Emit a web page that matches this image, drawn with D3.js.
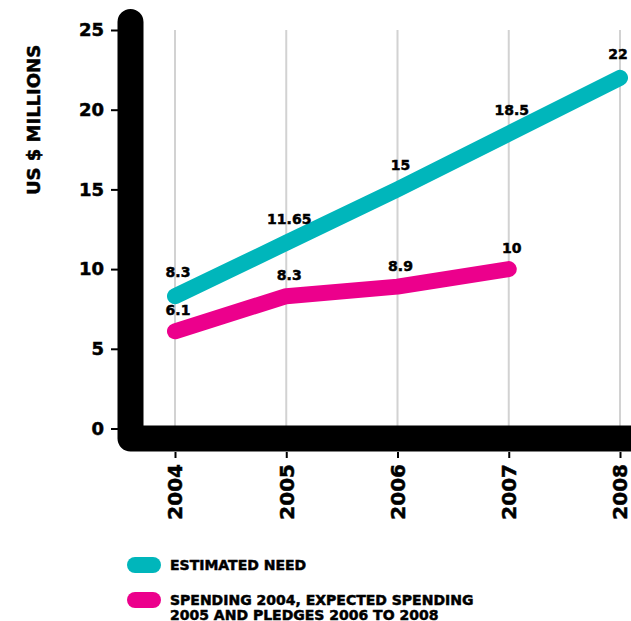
<!DOCTYPE html>
<html>
<head>
<meta charset="utf-8">
<script src="https://cdn.jsdelivr.net/npm/d3@7"></script>
<style>
  html, body { margin: 0; padding: 0; background: #fff; }
  svg { display: block; }
  text { font-family: "DejaVu Sans", sans-serif; font-weight: bold; fill: #000;
         stroke: #000; stroke-width: 0.5px; }
</style>
</head>
<body>
<svg id="chart" width="631" height="621"></svg>
<script>
// Years on the horizontal axis
const years = [2004, 2005, 2006, 2007, 2008];
// Estimated need, US $ millions
const needValues = [8.3, 11.65, 15, 18.5, 22];
// Spending 2004, expected spending 2005 and pledges 2006 onwards
const spendYears = [2004, 2005, 2006, 2007];
const spendValues = [6.1, 8.3, 8.9, 10];
// Value axis ticks
const yTicks = [0, 5, 10, 15, 20, 25];
// Legend entries
const legendLabels = [
  ["ESTIMATED NEED"],
  ["SPENDING 2004, EXPECTED SPENDING", "2005 AND PLEDGES 2006 TO 2008"]
];
const colors = ["#00b6bb", "#ec008c"];

const svg = d3.select("#chart");

const x = d3.scalePoint().domain(years).range([175, 620]);
const y = d3.scaleLinear().domain([0, 25]).range([428.5, 30]);

// Light vertical gridlines at each year
svg.append("g").selectAll("line").data(years).join("line")
  .attr("x1", d => x(d)).attr("x2", d => x(d))
  .attr("y1", y(25)).attr("y2", y(0))
  .attr("stroke", "#d2d2d2").attr("stroke-width", 2);

// Y axis ticks and labels
const yAxis = d3.axisLeft(y).tickValues(yTicks).tickSize(7).tickPadding(7);
const gy = svg.append("g").attr("transform", "translate(118,0)").call(yAxis);
gy.select(".domain").remove();
gy.selectAll(".tick line").attr("stroke", "#000").attr("stroke-width", 2);
gy.selectAll(".tick text")
  .attr("font-size", 18).attr("font-family", "DejaVu Sans").attr("font-weight", "bold")
  .attr("fill", "#000");

// X axis ticks and rotated year labels
const xAxis = d3.axisBottom(x).tickSize(6).tickPadding(0);
const gx = svg.append("g").attr("transform", "translate(0,452)").call(xAxis);
gx.select(".domain").remove();
gx.selectAll(".tick line").attr("stroke", "#000").attr("stroke-width", 2);
gx.selectAll(".tick text")
  .attr("font-size", 20).attr("font-family", "DejaVu Sans").attr("font-weight", "bold")
  .attr("fill", "#000")
  .attr("text-anchor", "end")
  .attr("transform", "rotate(-90)")
  .attr("x", -12).attr("y", 0).attr("dy", "0.34em");

// Heavy L-shaped axis frame
const frameX = x(years[0]) - 44.5;
const frameY = y(0) + 10;
svg.append("path")
  .attr("d", `M${frameX},${y(25) - 8}L${frameX},${frameY}L${650},${frameY}`)
  .attr("fill", "none").attr("stroke", "#000").attr("stroke-width", 26)
  .attr("stroke-linecap", "round").attr("stroke-linejoin", "round");

// Axis title
svg.append("text")
  .attr("transform", `translate(40,${120}) rotate(-90)`)
  .attr("text-anchor", "middle").attr("font-size", 18)
  .text("US $ MILLIONS");

// Series lines
const line = d3.line().x(d => x(d[0])).y(d => y(d[1]));
const series = [
  { pts: d3.zip(years, needValues), color: colors[0], off: 19 },
  { pts: d3.zip(spendYears, spendValues), color: colors[1], off: 16 }
];
series.forEach(s => {
  svg.append("path").datum(s.pts)
    .attr("d", line).attr("fill", "none")
    .attr("stroke", s.color).attr("stroke-width", 16)
    .attr("stroke-linecap", "round").attr("stroke-linejoin", "round");
});
series.forEach(s => {
  svg.append("g").selectAll("text").data(s.pts).join("text")
    .attr("x", d => Math.min(x(d[0]) + 3, 618)).attr("y", d => y(d[1]) - s.off)
    .attr("text-anchor", "middle").attr("font-size", 14)
    .text(d => d[1]);
});

// Legend
const legend = svg.append("g");
const legendY = [565, 600];
legendLabels.forEach((lines, i) => {
  legend.append("rect")
    .attr("x", 127).attr("y", legendY[i] - 8).attr("width", 34).attr("height", 16)
    .attr("rx", 8).attr("fill", colors[i]);
  lines.forEach((t, j) => {
    legend.append("text")
      .attr("x", 170).attr("y", legendY[i] + 5 + j * 14.5)
      .attr("font-size", 14).text(t);
  });
});
</script>
</body>
</html>
